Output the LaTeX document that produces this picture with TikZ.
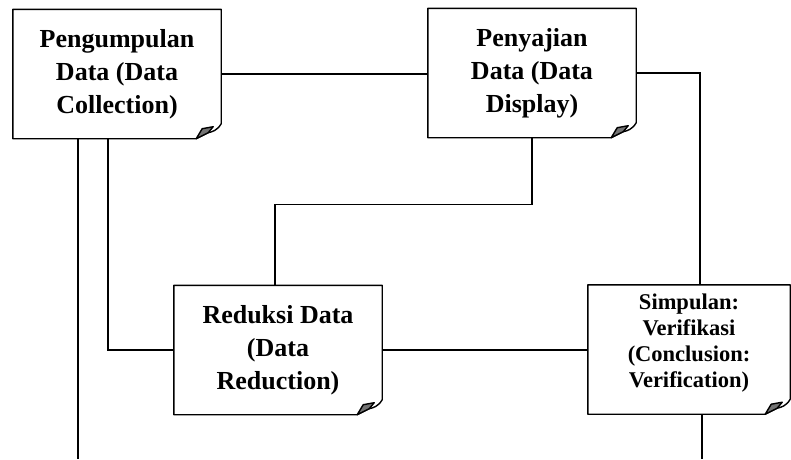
\documentclass[tikz,border=0pt]{standalone}
\usepackage{fontspec}
\setmainfont{Liberation Serif}
\begin{document}
\begin{tikzpicture}[
    x=1pt, y=-1pt,
    notebox/.style={minimum width=208pt,minimum height=129pt,inner sep=0pt,
        align=center,font=\bfseries\fontsize{26}{33}\selectfont},
    boxline/.style={line width=1.4pt,line join=round},
    link/.style={line width=1.3pt}]
    \useasboundingbox (0,0) rectangle (791,459);
    \node[notebox] (collect) at (117,74) {Pengumpulan\\Data (Data\\Collection)\vphantom{p}};
    \node[notebox] (display) at (532,73) {Penyajian\\Data (Data\\Display)};
    \node[notebox] (reduce) at (278,350) {Reduksi Data\\(Data\\Reduction)};
    \node[notebox,minimum width=202pt,
        font=\bfseries\fontsize{22.5}{26}\selectfont] (verify) at (689,349.5)
        {Simpulan:\\Verifikasi\\(Conclusion:\\Verification)\\[-8pt]};
    \coordinate (loopL) at (78,459);
    \coordinate (loopR) at (702,459);

    % note outlines with the turned-down corner
    \foreach \n in {collect,display,reduce,verify}{
        \draw[boxline] (\n.north west) -- (\n.north east)
            -- ([yshift=15pt]\n.south east)
            .. controls ([xshift=-4pt,yshift=8pt]\n.south east)
            and ([xshift=-9pt,yshift=7pt]\n.south east) .. ([xshift=-13pt,yshift=6pt]\n.south east)
            -- ([xshift=-25pt]\n.south east) -- (\n.south west) -- cycle;
        \draw[boxline,fill=black!55] ([xshift=-25pt]\n.south east)
            -- ([xshift=-19pt,yshift=10pt]\n.south east)
            -- ([xshift=-8pt,yshift=12pt]\n.south east)
            -- ([xshift=-13pt,yshift=6pt]\n.south east) -- cycle;
    }

    \draw[link] (collect.east) -- (collect.east -| display.west);
    \draw[link] (display.east) -| ([xshift=11pt]verify.north);
    \draw[link] (display.south) -- ++(0,67) -| ([xshift=-3pt]reduce.north);
    \draw[link] (collect.south -| loopL) -- (loopL);
    \draw[link] ([xshift=-9pt]collect.south) |- (reduce.west);
    \draw[link] (reduce.east) -- (reduce.east -| verify.west);
    \draw[link] (verify.south -| loopR) -- (loopR);
\end{tikzpicture}
\end{document}
